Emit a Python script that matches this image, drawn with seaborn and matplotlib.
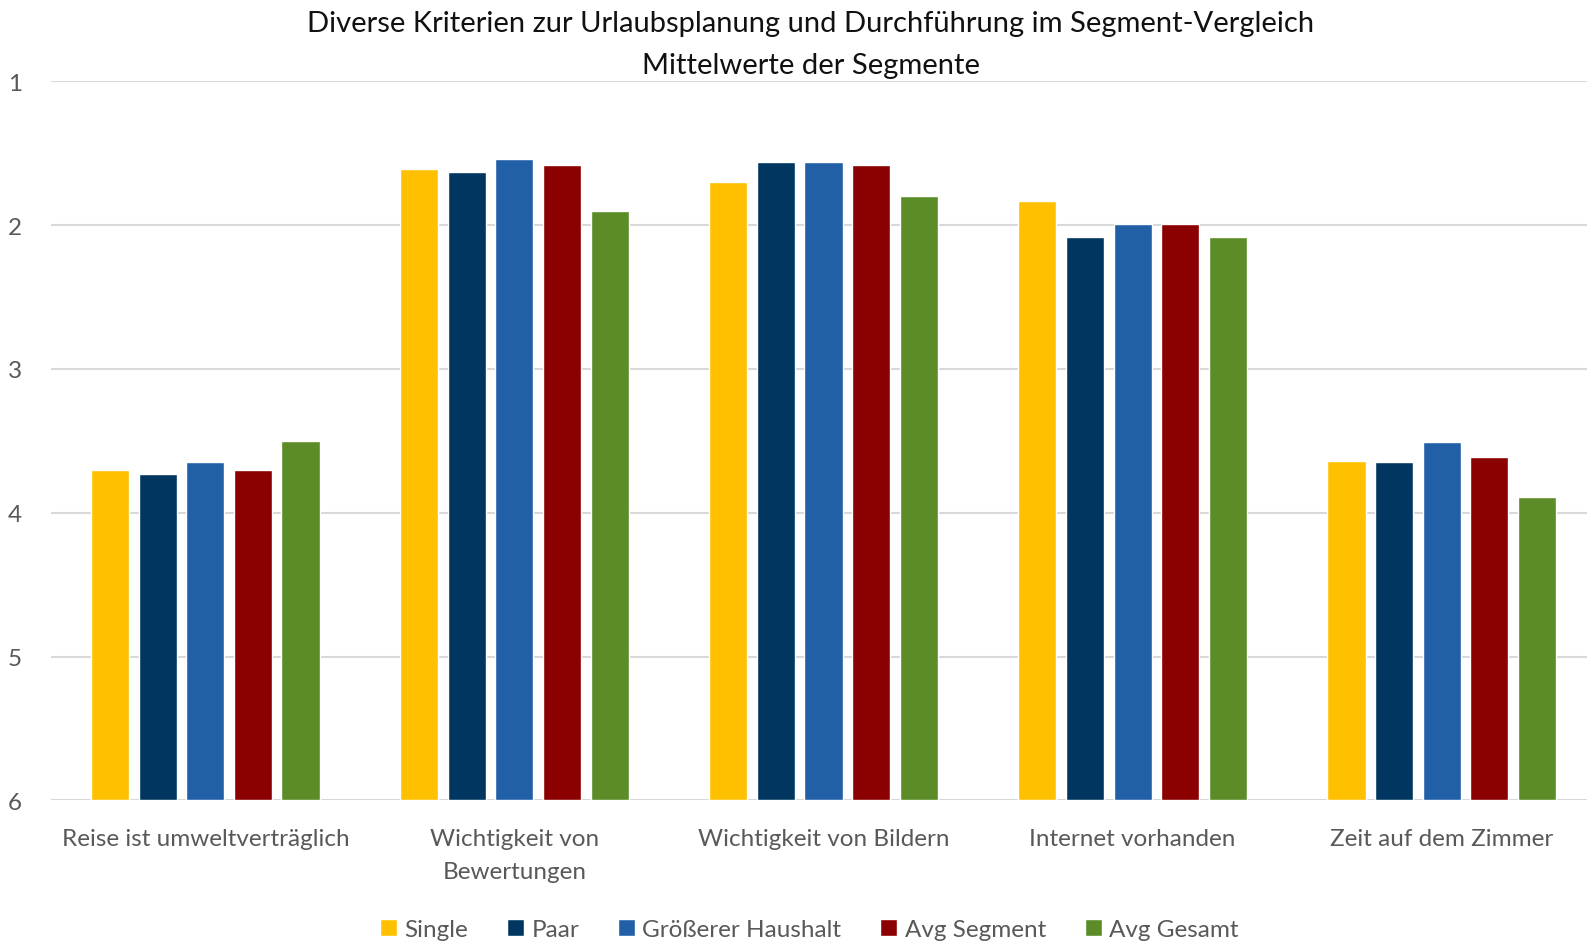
import matplotlib
matplotlib.use('Agg')
import matplotlib.pyplot as plt
import pandas as pd
import seaborn as sns
from matplotlib.ticker import FixedLocator, FuncFormatter

categories = ['Reise ist umweltverträglich', 'Wichtigkeit von\nBewertungen',
              'Wichtigkeit von Bildern', 'Internet vorhanden', 'Zeit auf dem Zimmer']
segments = ['Single', 'Paar', 'Größerer Haushalt', 'Avg Segment', 'Avg Gesamt']
single = [3.70, 1.61, 1.70, 1.83, 3.64]
paar = [3.73, 1.63, 1.56, 2.08, 3.65]
groesser = [3.65, 1.54, 1.56, 1.99, 3.51]
avg_segment = [3.70, 1.58, 1.58, 1.99, 3.61]
avg_gesamt = [3.50, 1.90, 1.80, 2.08, 3.89]
colors = ['#FFC000', '#003660', '#215FA6', '#8B0000', '#5B8C27']

SCALE_MAX = 6  # worst rating, bars grow from here

rows = []
for seg, vals in zip(segments, [single, paar, groesser, avg_segment, avg_gesamt]):
    for cat, v in zip(categories, vals):
        rows.append({'Kriterium': cat, 'Segment': seg, 'Wert': v})
df = pd.DataFrame(rows)
df['Hoehe'] = SCALE_MAX - df['Wert']

sns.set_style('white')
plt.rcParams['font.family'] = ['Lato', 'DejaVu Sans']

fig = plt.figure(figsize=(15.87, 9.45), dpi=100)
ax = fig.add_axes([0.032, 0.152, 0.968, 0.761])

sns.barplot(data=df, x='Kriterium', y='Hoehe', hue='Segment', order=categories,
            hue_order=segments, palette=colors, width=0.77, gap=0.2,
            saturation=1, ax=ax, legend=True)

ax.set_ylim(0, SCALE_MAX - 1)
ax.set_xlim(-0.5, 4.47)
ax.yaxis.set_major_locator(FixedLocator(range(0, SCALE_MAX)))
ax.yaxis.set_major_formatter(FuncFormatter(lambda t, p: f'{SCALE_MAX - t:.0f}'))
ax.grid(axis='y', color='#D9D9D9', linewidth=1.5)
ax.set_axisbelow(True)
for s in ax.spines.values():
    s.set_visible(False)
ax.tick_params(axis='both', length=0, labelsize=17.5, labelcolor='#595959')
ax.tick_params(axis='x', pad=20)
ax.tick_params(axis='y', pad=31)
for lab in ax.get_yticklabels():
    lab.set_horizontalalignment('left')
for lab in ax.get_xticklabels():
    lab.set_linespacing(1.7)
ax.set_xlabel('')
ax.set_ylabel('')

fig.suptitle('Diverse Kriterien zur Urlaubsplanung und Durchführung im Segment-Vergleich\n'
             'Mittelwerte der Segmente', fontsize=21, color='#111111',
             x=0.511, y=0.988, linespacing=1.75)

handles, labels = ax.get_legend_handles_labels()
ax.get_legend().remove()
fig.legend(handles, labels, loc='lower center', ncol=5, frameon=False,
           fontsize=17.5, labelcolor='#595959', handlelength=0.7, handleheight=0.7,
           handletextpad=0.3, columnspacing=1.6, bbox_to_anchor=(0.51, -0.019))

fig.savefig('out.png', dpi=100)
